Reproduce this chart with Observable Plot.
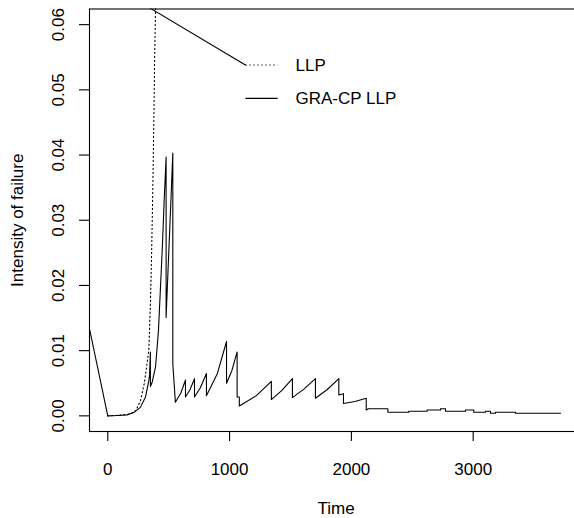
<!DOCTYPE html>
<html><head><meta charset="utf-8">
<script src="https://cdn.jsdelivr.net/npm/d3@7"></script>
<script src="https://cdn.jsdelivr.net/npm/@observablehq/plot@0.6"></script>
<style>
body{margin:0;background:#fff;overflow:hidden}
#wrap{width:574px;height:518px;overflow:hidden;background:#fff}
</style>
</head><body><div id="wrap"></div>
<script>
// LLP (dotted) intensity
const llpTime  = [0, 100, 186, 230, 268, 300, 337, 351, 360, 370, 378, 385, 392, 400];
const llpValue = [0, 0.0001, 0.0003, 0.0008, 0.0023, 0.0050, 0.0100, 0.0177, 0.0250, 0.035, 0.045, 0.055, 0.0624, 0.070];

// GRA-CP LLP (solid) intensity
const graTime = [-150, 0, 77, 159, 213, 268, 310, 337, 343, 350, 350, 365, 392, 416, 447, 463, 479, 479, 498, 515, 534, 534, 555,
  600, 638, 638, 675, 712, 712, 760, 810, 810, 900, 975, 975, 1020, 1062, 1062, 1080, 1080, 1220, 1343, 1343, 1430, 1516, 1516,
  1610, 1705, 1705, 1800, 1897, 1897, 1935, 1935, 2030, 2122, 2122, 2140, 2300, 2300, 2471, 2471, 2622, 2622, 2732, 2732,
  2773, 2773, 2937, 2937, 3005, 3005, 3101, 3101, 3142, 3142, 3183, 3183, 3347, 3347, 3717];
const graValue = [0.01335, 0, 0.00005, 0.00015, 0.0005, 0.0013, 0.0029, 0.0054, 0.0062, 0.0098, 0.0045, 0.0052, 0.0075, 0.0130, 0.0254, 0.0330, 0.0397, 0.0151, 0.0238, 0.0315, 0.0403, 0.0080, 0.0021,
  0.0035, 0.0055, 0.0029, 0.0040, 0.0057, 0.0029, 0.0043, 0.0065, 0.0031, 0.0065, 0.0114, 0.0050, 0.0070, 0.0098, 0.0029, 0.0029, 0.0015, 0.0031, 0.0053, 0.0025, 0.0039, 0.0057, 0.0028,
  0.0041, 0.0057, 0.0027, 0.0040, 0.0057, 0.0032, 0.0034, 0.0019, 0.0022, 0.0027, 0.0009, 0.0011, 0.0011, 0.00055, 0.00055, 0.0007, 0.0007, 0.0009, 0.0009, 0.0011,
  0.0011, 0.0007, 0.0007, 0.0009, 0.0009, 0.00055, 0.00055, 0.0007, 0.0007, 0.0004, 0.0004, 0.00055, 0.00055, 0.0004, 0.0004];

// stray solid segment running into the legend
const strayTime  = [350, 1130];
const strayValue = [0.0625, 0.0538];

// legend
const legendLabels = ["LLP", "GRA-CP LLP"];
const legendDash   = ["1.3,2.7", null];
const legendY      = [0.0538, 0.0487];
const legendX1 = 1130, legendX2 = 1395, legendTextX = 1541;

// axes
const xTicks = [0, 1000, 2000, 3000];
const yTicks = [0, 0.01, 0.02, 0.03, 0.04, 0.05, 0.06];
const xLabel = "Time";
const yLabel = "Intensity of failure";

const llp = llpTime.map((t, i) => ({t, v: llpValue[i]}));
const gra = graTime.map((t, i) => ({t, v: graValue[i]}));
const stray = strayTime.map((t, i) => ({t, v: strayValue[i]}));
const legend = legendLabels.map((label, i) => ({label, dash: legendDash[i], y: legendY[i]}));

const fmtY = d3.format(".2f");

const chart = Plot.plot({
  width: 584, height: 518,
  marginLeft: 89, marginRight: 1.7, marginTop: 8.5, marginBottom: 87,
  x: {domain: [-150, 3900]},
  y: {domain: [-0.0024, 0.0624]},
  style: {fontFamily: "Liberation Sans, Arial, sans-serif", fontSize: "17px", background: "white", color: "black"},
  marks: [
    Plot.line(llp, {x: "t", y: "v", stroke: "black", strokeWidth: 1.1, strokeDasharray: "1.3,2.7", clip: true}),
    Plot.line(gra, {x: "t", y: "v", stroke: "black", strokeWidth: 1.1, clip: true}),
    Plot.line(stray, {x: "t", y: "v", stroke: "black", strokeWidth: 1.1, clip: true}),
    Plot.link(legend.filter(d => d.dash), {x1: legendX1, x2: legendX2, y1: "y", y2: "y", stroke: "black", strokeWidth: 1.1, strokeDasharray: "1.3,2.7"}),
    Plot.link(legend.filter(d => !d.dash), {x1: legendX1, x2: legendX2, y1: "y", y2: "y", stroke: "black", strokeWidth: 1.1}),
    Plot.text(legend, {x: legendTextX, y: "y", text: "label", textAnchor: "start", lineAnchor: "middle", fill: "black"}),
    Plot.frame({stroke: "black", strokeWidth: 1.1}),
    Plot.axisX({ticks: xTicks, tickSize: 10, tickPadding: 21, tickFormat: d3.format("d"), label: null, strokeWidth: 1.1}),
    Plot.axisY({ticks: yTicks, tickSize: 10, tickFormat: () => "", label: null, strokeWidth: 1.1}),
    Plot.text(yTicks, {y: d => d, text: d => fmtY(d), frameAnchor: "left", dx: -31, rotate: -90, textAnchor: "middle", lineAnchor: "middle", fill: "black"}),
    Plot.text([xLabel], {text: d => d, frameAnchor: "bottom", dy: 77, lineAnchor: "middle", fill: "black"}),
    Plot.text([yLabel], {text: d => d, frameAnchor: "left", dx: -72, rotate: -90, textAnchor: "middle", lineAnchor: "middle", fill: "black"})
  ]
});
chart.style.maxWidth = "none";
chart.style.width = "584px";
chart.style.height = "518px";
chart.style.display = "block";
document.getElementById("wrap").appendChild(chart);
</script>
</body></html>
